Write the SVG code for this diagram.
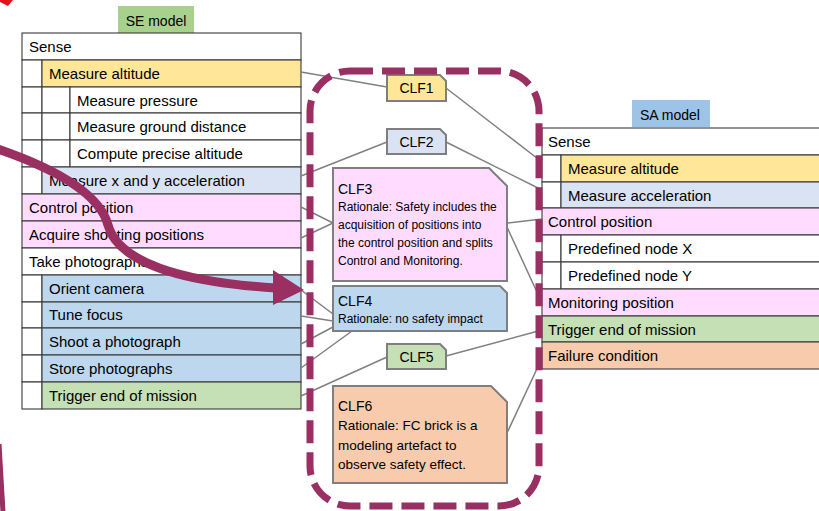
<svg xmlns="http://www.w3.org/2000/svg" width="819" height="511" viewBox="0 0 819 511">
<style>
.cell{stroke:#3a3a3a;stroke-width:1.1}
.w{fill:#ffffff}.y{fill:#ffe699}.lb{fill:#dae3f3}.pk{fill:#ffdcff}.b{fill:#bdd7ee}.g{fill:#c5e0b4}.o{fill:#f8cbad}
.t{font-family:"Liberation Sans",Arial,sans-serif;font-size:15px;fill:#000}
.clf{stroke:#7f7f7f;stroke-width:2}
.lbl{font-family:"Liberation Sans",Arial,sans-serif;font-size:14px;fill:#000}
.rat{font-family:"Liberation Sans",Arial,sans-serif;font-size:12px;fill:#000}
.conn line{stroke:#808080;stroke-width:1.5;fill:none}
</style>

<g id="se-model">
<rect x="118" y="6" width="76" height="27" fill="#a9d18e"/>
<text class="t" x="156" y="26" text-anchor="middle" style="font-size:14px">SE model</text>
<rect class="cell w" x="22" y="33" width="279" height="27"/>
<text class="t" x="29" y="52">Sense</text>
<rect class="cell w" x="22" y="60" width="20" height="27"/>
<rect class="cell y" x="42" y="60" width="259" height="27"/>
<text class="t" x="49" y="79">Measure altitude</text>
<rect class="cell w" x="22" y="87" width="20" height="26"/>
<rect class="cell w" x="42" y="87" width="28" height="26"/>
<rect class="cell w" x="70" y="87" width="231" height="26"/>
<text class="t" x="77" y="106">Measure pressure</text>
<rect class="cell w" x="22" y="113" width="20" height="27"/>
<rect class="cell w" x="42" y="113" width="28" height="27"/>
<rect class="cell w" x="70" y="113" width="231" height="27"/>
<text class="t" x="77" y="132">Measure ground distance</text>
<rect class="cell w" x="22" y="140" width="20" height="27"/>
<rect class="cell w" x="42" y="140" width="28" height="27"/>
<rect class="cell w" x="70" y="140" width="231" height="27"/>
<text class="t" x="77" y="159">Compute precise altitude</text>
<rect class="cell w" x="22" y="167" width="20" height="27"/>
<rect class="cell lb" x="42" y="167" width="259" height="27"/>
<text class="t" x="49" y="186">Measure x and y acceleration</text>
<rect class="cell pk" x="22" y="194" width="279" height="27"/>
<text class="t" x="29" y="213">Control position</text>
<rect class="cell pk" x="22" y="221" width="279" height="27"/>
<text class="t" x="29" y="240">Acquire shooting positions</text>
<rect class="cell w" x="22" y="248" width="279" height="27"/>
<text class="t" x="29" y="267">Take photographs</text>
<rect class="cell w" x="22" y="275" width="20" height="27"/>
<rect class="cell b" x="42" y="275" width="259" height="27"/>
<text class="t" x="49" y="294">Orient camera</text>
<rect class="cell w" x="22" y="302" width="20" height="26"/>
<rect class="cell b" x="42" y="302" width="259" height="26"/>
<text class="t" x="49" y="320">Tune focus</text>
<rect class="cell w" x="22" y="328" width="20" height="27"/>
<rect class="cell b" x="42" y="328" width="259" height="27"/>
<text class="t" x="49" y="347">Shoot a photograph</text>
<rect class="cell w" x="22" y="355" width="20" height="27"/>
<rect class="cell b" x="42" y="355" width="259" height="27"/>
<text class="t" x="49" y="374">Store photographs</text>
<rect class="cell w" x="22" y="382" width="20" height="27"/>
<rect class="cell g" x="42" y="382" width="259" height="27"/>
<text class="t" x="49" y="401">Trigger end of mission</text>
</g>

<g id="sa-model">
<rect x="632" y="100" width="78" height="27" fill="#9dc3e6"/>
<text class="t" x="670" y="120" text-anchor="middle" style="font-size:14px">SA model</text>
<rect class="cell w" x="542" y="128" width="290" height="27"/>
<text class="t" x="548" y="147">Sense</text>
<rect class="cell w" x="542" y="155" width="19" height="27"/>
<rect class="cell y" x="561" y="155" width="271" height="27"/>
<text class="t" x="568" y="174">Measure altitude</text>
<rect class="cell w" x="542" y="182" width="19" height="26"/>
<rect class="cell lb" x="561" y="182" width="271" height="26"/>
<text class="t" x="568" y="201">Measure acceleration</text>
<rect class="cell pk" x="542" y="208" width="290" height="27"/>
<text class="t" x="548" y="227">Control position</text>
<rect class="cell w" x="542" y="235" width="19" height="27"/>
<rect class="cell w" x="561" y="235" width="271" height="27"/>
<text class="t" x="568" y="254">Predefined node X</text>
<rect class="cell w" x="542" y="262" width="19" height="27"/>
<rect class="cell w" x="561" y="262" width="271" height="27"/>
<text class="t" x="568" y="281">Predefined node Y</text>
<rect class="cell pk" x="542" y="289" width="290" height="27"/>
<text class="t" x="548" y="308">Monitoring position</text>
<rect class="cell g" x="542" y="316" width="290" height="26"/>
<text class="t" x="548" y="335">Trigger end of mission</text>
<rect class="cell o" x="542" y="342" width="290" height="27"/>
<text class="t" x="548" y="361">Failure condition</text>
</g>

<g id="connectors" class="conn">
<line x1="301" y1="72" x2="387" y2="87"/>
<line x1="446" y1="88" x2="542" y2="162"/>
<line x1="301" y1="176" x2="387" y2="142"/>
<line x1="446" y1="142" x2="542" y2="190"/>
<line x1="301" y1="207" x2="333" y2="223"/>
<line x1="301" y1="238" x2="333" y2="223"/>
<line x1="507" y1="223" x2="542" y2="219"/>
<line x1="507" y1="227" x2="542" y2="303"/>
<line x1="301" y1="290" x2="333" y2="314"/>
<line x1="301" y1="316" x2="333" y2="321"/>
<line x1="301" y1="344" x2="333" y2="327"/>
<line x1="301" y1="368" x2="352" y2="331"/>
<line x1="301" y1="396" x2="387" y2="357"/>
<line x1="446" y1="356" x2="542" y2="330"/>
<line x1="507" y1="433" x2="542" y2="358"/>
</g>

<g id="CLF1">
<path class="clf" fill="#ffe699" d="M387,75 H440 L446,81 V101 H387 Z"/>
<text class="lbl" x="416.5" y="93" text-anchor="middle">CLF1</text>
</g>
<g id="CLF2">
<path class="clf" fill="#dae3f3" d="M387,129 H440 L446,135 V154 H387 Z"/>
<text class="lbl" x="416.5" y="146.5" text-anchor="middle">CLF2</text>
</g>
<g id="CLF3">
<path class="clf" fill="#ffdcff" d="M333,168 H489 L507,186 V281 H333 Z"/>
<text class="lbl" x="338" y="194">CLF3</text>
<text class="rat" x="338" y="211">Rationale: Safety includes the</text>
<text class="rat" x="338" y="229">acquisition of positions into</text>
<text class="rat" x="338" y="247">the control position and splits</text>
<text class="rat" x="338" y="265">Control and Monitoring.</text>
</g>
<g id="CLF4">
<path class="clf" fill="#bdd7ee" d="M333,286 H500 L507,293 V331 H333 Z"/>
<text class="lbl" x="338" y="306">CLF4</text>
<text class="rat" x="338" y="323">Rationale: no safety impact</text>
</g>
<g id="CLF5">
<path class="clf" fill="#c5e0b4" d="M387,344 H440 L446,350 V369 H387 Z"/>
<text class="lbl" x="416.5" y="361.5" text-anchor="middle">CLF5</text>
</g>
<g id="CLF6">
<path class="clf" fill="#f8cbad" d="M333,386 H491 L507,402 V483 H333 Z"/>
<text class="lbl" x="338" y="411">CLF6</text>
<text class="rat" x="338" y="430" style="font-size:13.5px">Rationale: FC brick is a</text>
<text class="rat" x="338" y="449.5" style="font-size:13.5px">modeling artefact to</text>
<text class="rat" x="338" y="469" style="font-size:13.5px">observe safety effect.</text>
</g>

<g id="highlight">
<rect x="310" y="71" width="229" height="435" rx="40" ry="40" fill="none" stroke="#9a2f62" stroke-width="7" stroke-dasharray="23 9"/>
<path d="M-5,148 C60,170 100,195 108,225 C118,262 180,282 276,288" fill="none" stroke="#9a2f62" stroke-width="9"/>
<polygon points="273,270 304,290 273,305" fill="#9a2f62"/>
<path d="M-1,444 L3,512" fill="none" stroke="#9a2f62" stroke-width="5"/>
<polygon points="0,0 13,0 8,6 0,2" fill="#e3121b"/>
</g>
</svg>
